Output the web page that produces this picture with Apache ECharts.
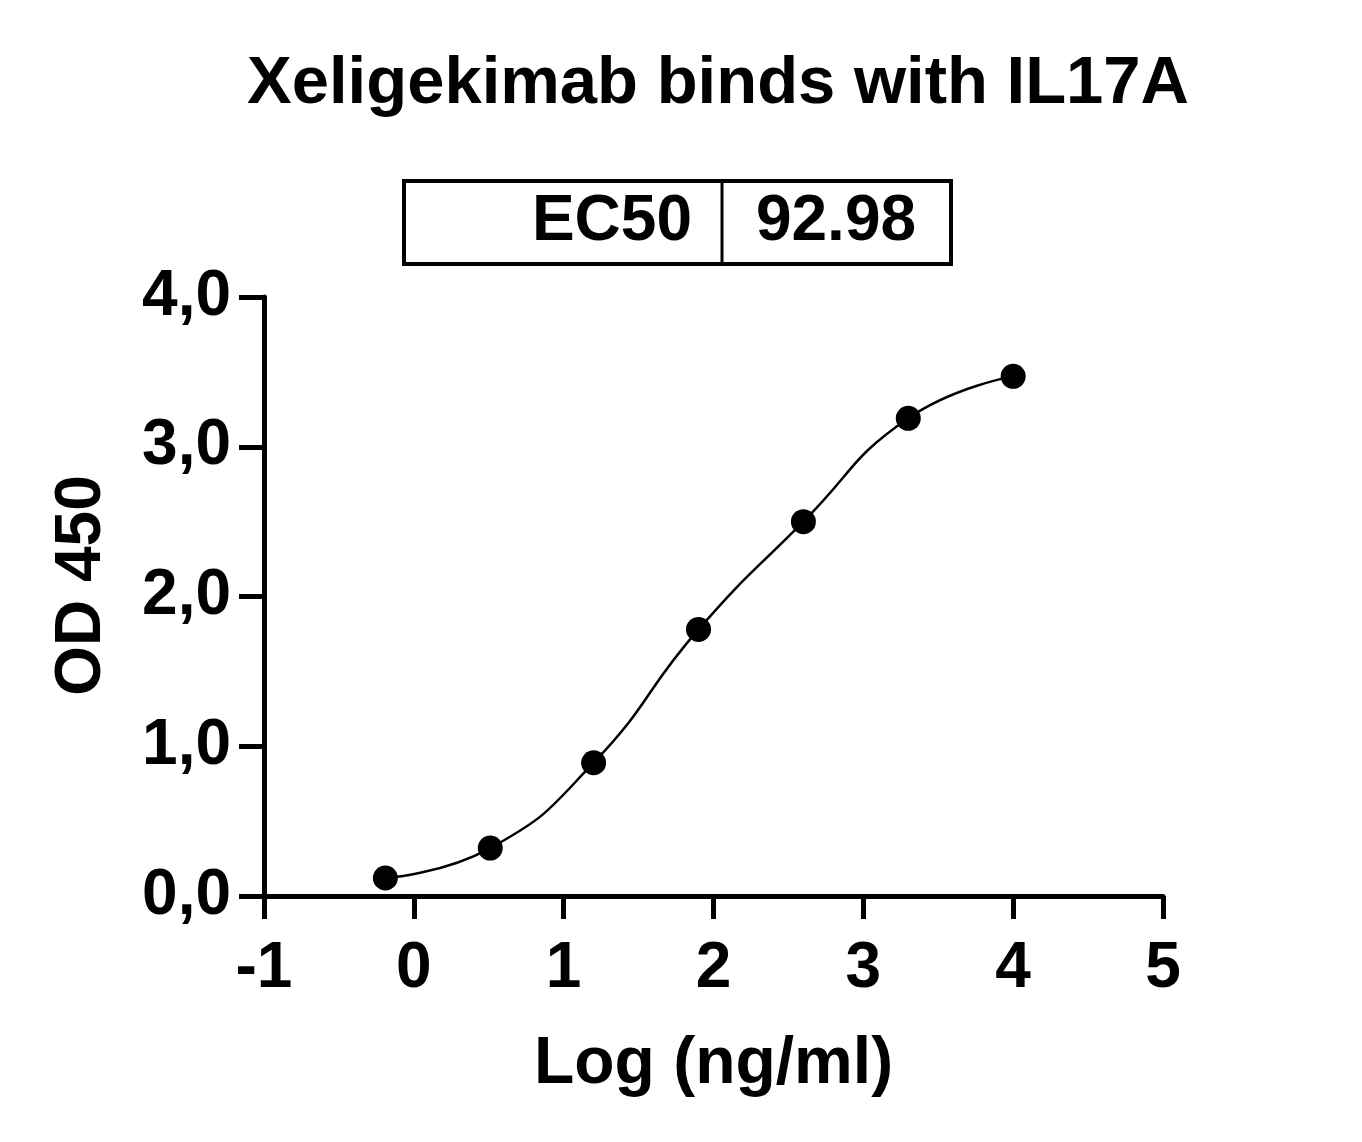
<!DOCTYPE html>
<html>
<head>
<meta charset="utf-8">
<script src="https://cdn.jsdelivr.net/npm/echarts@6/dist/echarts.min.js"></script>
<style>
html,body{margin:0;padding:0;background:#fff;}
#chart{width:1362px;height:1142px;}
</style>
</head>
<body>
<div id="chart"></div>
<script>
// ---- data ----
var titleText = 'Xeligekimab binds with IL17A';
var xName = 'Log (ng/ml)';
var yName = 'OD 450';
var logConc = [-0.19, 0.51, 1.2, 1.9, 2.6, 3.3, 4.0];
var od450   = [0.12, 0.32, 0.89, 1.78, 2.50, 3.19, 3.47];
var ec50Label = 'EC50';
var ec50Value = '92.98';
var xMin = -1, xMax = 5, xStep = 1;
var yMin = 0, yMax = 4, yStep = 1;

var FONT = '"Liberation Sans", Arial, Helvetica, sans-serif';
var points = logConc.map(function (x, i) { return [x, od450[i]]; });

var chart = echarts.init(document.getElementById('chart'), null, {renderer: 'canvas'});
chart.setOption({
  backgroundColor: '#ffffff',
  animation: false,
  title: {
    text: titleText,
    left: 713,
    textAlign: 'center',
    top: 46,
    textStyle: {fontFamily: FONT, fontWeight: 'bold', fontSize: 67, color: '#000'}
  },
  grid: {left: 264, right: 199, top: 297, bottom: 246, containLabel: false},
  xAxis: {
    type: 'value',
    min: xMin, max: xMax, interval: xStep,
    name: xName,
    nameLocation: 'middle',
    nameGap: 136,
    nameTextStyle: {fontFamily: FONT, fontWeight: 'bold', fontSize: 66, color: '#000'},
    axisLine: {show: true, onZero: false, lineStyle: {color: '#000', width: 5}},
    axisTick: {show: true, inside: false, length: 23, lineStyle: {color: '#000', width: 5}},
    axisLabel: {margin: 41, fontFamily: FONT, fontWeight: 'bold', fontSize: 64, color: '#000'},
    splitLine: {show: false}
  },
  yAxis: {
    type: 'value',
    min: yMin, max: yMax, interval: yStep,
    name: yName,
    nameLocation: 'middle',
    nameGap: 150,
    nameTextStyle: {fontFamily: FONT, fontWeight: 'bold', fontSize: 64, color: '#000', padding: [0, 0, 0, 22]},
    axisLine: {show: true, onZero: false, lineStyle: {color: '#000', width: 5}},
    axisTick: {show: true, inside: false, length: 25, lineStyle: {color: '#000', width: 5}},
    axisLabel: {
      margin: 33, fontFamily: FONT, fontWeight: 'bold', fontSize: 64, color: '#000',
      formatter: function (v) { return v.toFixed(1).replace('.', ','); }
    },
    splitLine: {show: false}
  },
  graphic: [
    {type: 'rect', shape: {x: 404, y: 181, width: 547, height: 83},
     style: {fill: 'none', stroke: '#000', lineWidth: 4}},
    {type: 'line', shape: {x1: 722, y1: 181, x2: 722, y2: 264},
     style: {stroke: '#000', lineWidth: 3}},
    {type: 'text', x: 692, y: 222,
     style: {text: ec50Label, fontFamily: FONT, fontWeight: 'bold', fontSize: 64, fill: '#000',
             textAlign: 'right', textVerticalAlign: 'middle'}},
    {type: 'text', x: 836, y: 222,
     style: {text: ec50Value, fontFamily: FONT, fontWeight: 'bold', fontSize: 64, fill: '#000',
             textAlign: 'center', textVerticalAlign: 'middle'}}
  ],
  series: [
    {
      type: 'line',
      data: points,
      smooth: 0.5,
      symbol: 'circle',
      symbolSize: 25,
      showAllSymbol: true,
      lineStyle: {color: '#000', width: 2.5},
      itemStyle: {color: '#000'},
      z: 5
    }
  ]
});
</script>
</body>
</html>
